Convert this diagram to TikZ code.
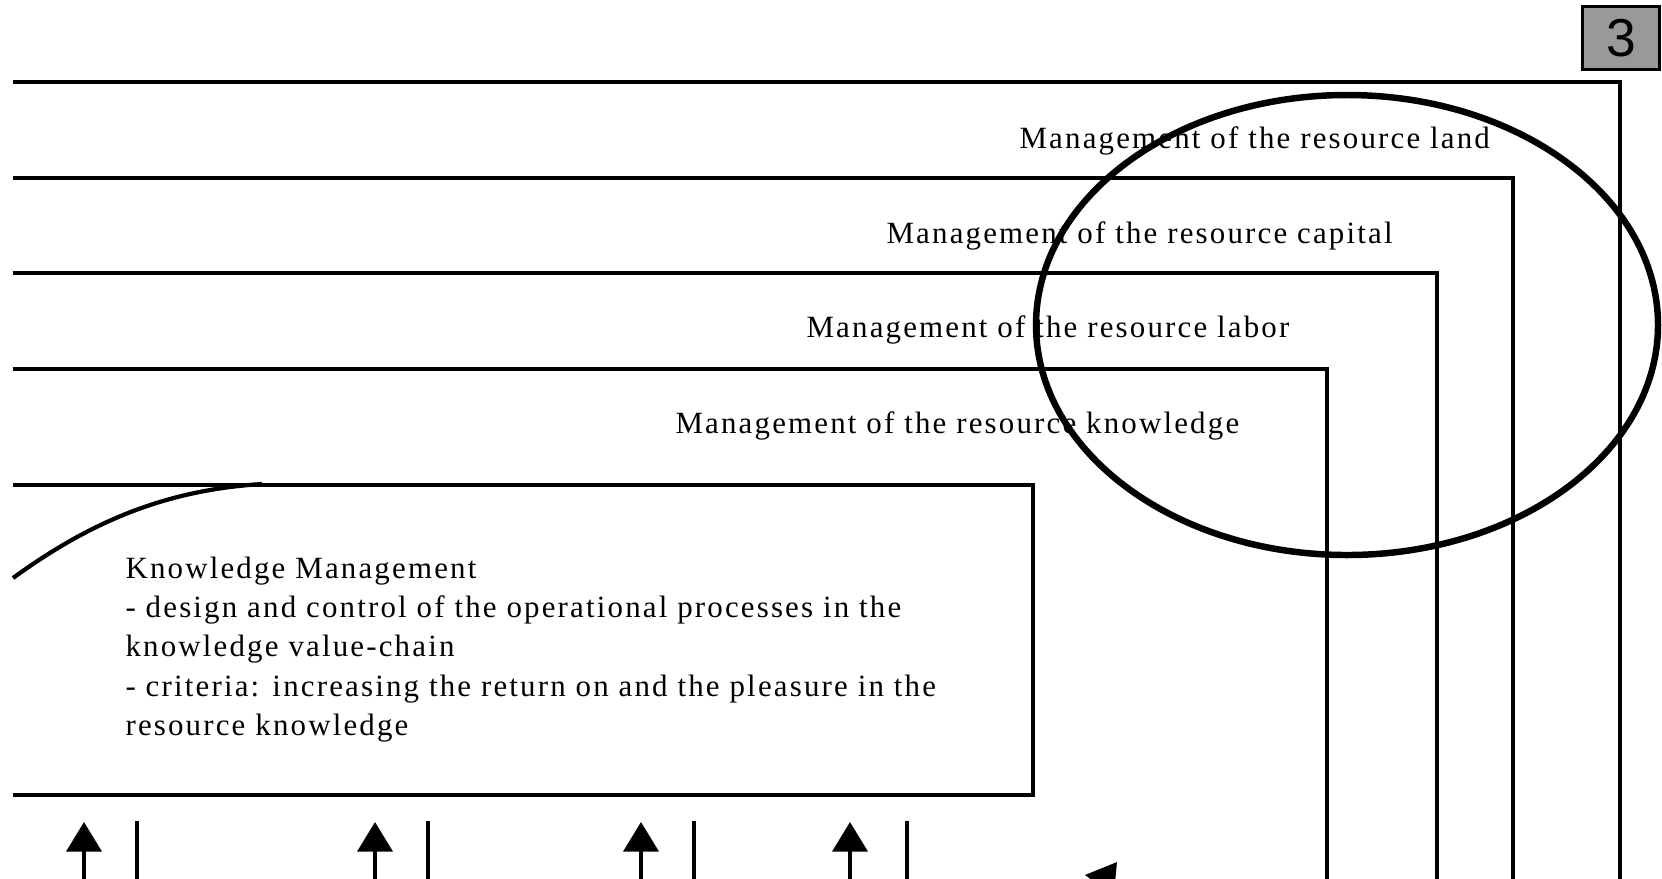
\documentclass[tikz,border=0pt]{standalone}
\usepackage{fontspec}
\setmainfont{Liberation Serif}[LetterSpace=7]
\newfontfamily\badgefont{Liberation Sans}
\usepackage{tikz}
\usetikzlibrary{arrows.meta,positioning}

\begin{document}
\begin{tikzpicture}[
  x=0.0125cm, y=-0.0125cm,
  frame/.style={line width=1.2pt},
  ring/.style={line width=2.3pt},
  lbl/.style={font=\fontsize{11}{14}\selectfont, inner sep=0pt, anchor=base west},
  up/.style={-{Triangle[length=10.5pt, width=12.5pt]}, line width=1.1pt}
]
\useasboundingbox (0,0) rectangle (1662,878);

\draw[frame] (13,82) -| (1620,880);
\draw[frame] (13,178) -| (1513,880);
\draw[frame] (13,273) -| (1437,880);
\draw[frame] (13,369) -| (1327,880);
\draw[frame] (13,485) -| (1033,795) -- (13,795);

\node[lbl] (land) at (1019,148) {Management of the resource land};
\node[lbl] (capital) at (886,243) {Management of the resource capital};
\node[lbl] (labor) at (806,337) {Management of the resource labor};
\node[lbl] (knowledge) at (675,433) {Management of the resource knowledge};

\node[lbl, anchor=north west, align=left] (km) at (125,556)
  {Knowledge Management\\
   - design and control of the operational processes in the\\
   knowledge value-chain\\
   - criteria: increasing the return on and the pleasure in the\\
   resource knowledge};

\draw[ring] (1347,325) ellipse [x radius=311, y radius=230];
\draw[line width=1.5pt] (13,578) .. controls (90,522) and (165,490) .. (262,484);

\foreach \ax/\lx in {84/137, 375/428, 641/694, 850/907} {
  \draw[up] (\ax,885) -- (\ax,822);
  \draw[frame] (\lx,821) -- (\lx,885);
}
\draw[up] (1085,905) -- (1117,862);

\node[draw, fill=black!40, line width=0.8pt, minimum width=77*0.0125cm,
      minimum height=63*0.0125cm, inner sep=0pt, font=\badgefont\fontsize{19}{19}\selectfont]
  (badge) at (1621,38) {3};
\end{tikzpicture}
\end{document}
